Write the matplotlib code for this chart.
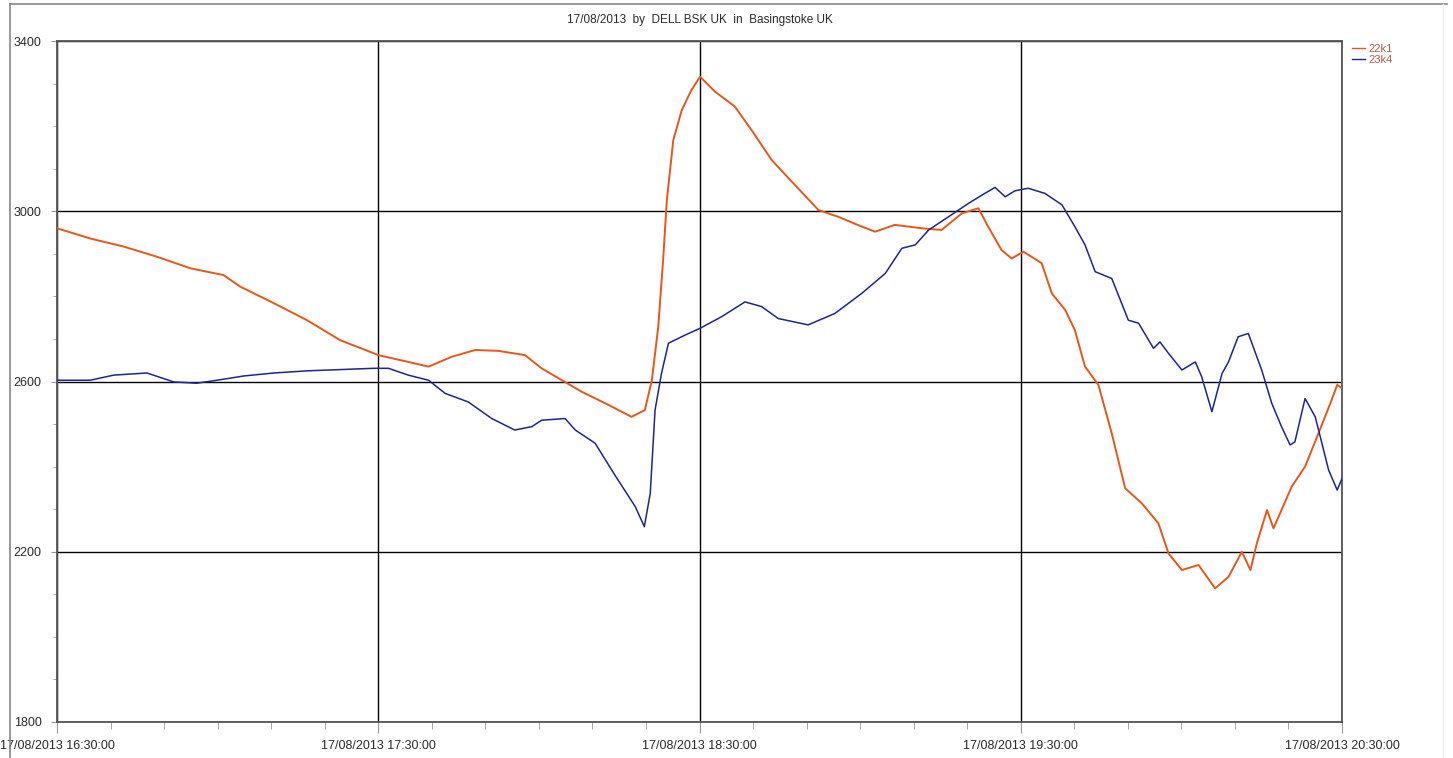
import datetime as dt
import matplotlib
matplotlib.use("Agg")
import matplotlib.pyplot as plt
import matplotlib.dates as mdates
from matplotlib.lines import Line2D

plt.rcParams['font.family'] = ['Liberation Sans', 'DejaVu Sans']

title = "17/08/2013  by  DELL BSK UK  in  Basingstoke UK"
series_names = ["22k1", "23k4"]

# minutes after 17/08/2013 16:30:00
red_minutes = [0, 6.2, 12.45, 18.7, 24.9, 31.1, 34.2, 40.5, 46.7, 52.9, 57.6, 60.0, 65.6, 69.4,
               73.7, 78.1, 82.4, 87.4, 90.5, 94.3, 98.0, 103.0, 107.3, 109.8, 111.1, 112.3, 113.2,
               113.9, 115.1, 116.7, 118.5, 120.1, 122.9, 126.6, 129.7, 133.5, 137.8, 142.2, 145.9,
               150.3, 152.8, 156.5, 161.5, 165.2, 169.0, 172.1, 173.9, 176.4, 178.3, 180.5, 183.9,
               185.8, 188.3, 190.1, 192.0, 194.5, 197.0, 199.5, 202.6, 205.7, 207.6, 210.1, 213.2,
               216.3, 218.8, 221.3, 222.9, 224.1, 226.0, 227.2, 228.7, 230.6, 233.1, 235.6, 237.8,
               239.1, 240]
red_values = [2960, 2936, 2917, 2893, 2866, 2850, 2823, 2784, 2744, 2697, 2674, 2662, 2646, 2635,
              2658, 2674, 2672, 2662, 2631, 2603, 2576, 2545, 2517, 2533, 2603, 2729, 2885,
              3026, 3167, 3238, 3285, 3316, 3281, 3246, 3191, 3120, 3062, 3003, 2987,
              2964, 2952, 2968, 2960, 2956, 2995, 3007, 2964, 2909, 2889, 2905, 2878,
              2807, 2768, 2721, 2635, 2592, 2478, 2349, 2314, 2267, 2196, 2157, 2169,
              2114, 2141, 2200, 2157, 2220, 2298, 2255, 2298, 2353, 2400, 2478, 2548,
              2592, 2584]

blue_minutes = [0, 6.2, 10.6, 16.8, 21.8, 26.1, 29.9, 34.9, 40.5, 46.7, 52.9, 59.1, 61.9, 65.6,
                69.4, 72.5, 76.8, 81.2, 85.5, 88.7, 90.5, 94.9, 96.8, 100.5, 104.2, 108.0, 109.7,
                110.8, 111.7, 112.9, 114.2, 117.3, 120.1, 124.1, 128.5, 131.6, 134.7, 140.3, 145.3,
                150.3, 154.7, 157.8, 160.3, 162.8, 166.5, 170.3, 173.3, 175.2, 177.1, 178.9, 181.4,
                184.5, 187.7, 190.1, 192.0, 193.9, 197.0, 200.1, 202.0, 204.8, 206.0, 207.6, 210.1,
                212.6, 213.8, 215.7, 217.6, 218.8, 220.6, 222.5, 225.0, 226.9, 228.7, 230.3, 231.2,
                233.1, 235.0, 237.5, 239.1, 240]
blue_values = [2603, 2603, 2615, 2620, 2599, 2596, 2603, 2613, 2620, 2625, 2628, 2631, 2631, 2615,
               2603, 2572, 2552, 2513, 2486, 2494, 2509, 2513, 2486, 2455, 2380, 2306, 2259,
               2337, 2533, 2619, 2690, 2709, 2725, 2752, 2787, 2776, 2748, 2733, 2760,
               2807, 2854, 2913, 2921, 2956, 2987, 3019, 3042, 3056, 3034, 3048, 3054,
               3042, 3015, 2964, 2921, 2858, 2842, 2744, 2737, 2678, 2693, 2666, 2627,
               2646, 2611, 2529, 2619, 2646, 2705, 2713, 2627, 2548, 2494, 2451, 2458,
               2560, 2517, 2392, 2345, 2372]

y_ticks = [1800, 2200, 2600, 3000, 3400]

start = dt.datetime(2013, 8, 17, 16, 30, 0)
end = dt.datetime(2013, 8, 17, 20, 30, 0)
red_t = [start + dt.timedelta(minutes=m) for m in red_minutes]
blue_t = [start + dt.timedelta(minutes=m) for m in blue_minutes]

W, H = 1453, 758
fig = plt.figure(figsize=(W / 100, H / 100), dpi=100)
fig.patch.set_facecolor('white')
ax = fig.add_axes([57 / W, 1 - 722 / H, (1342 - 57) / W, (722 - 41) / H])

ax.plot(red_t, red_values, color='#e8561c', lw=1.4, label=series_names[0], zorder=3)
ax.plot(blue_t, blue_values, color='#1c2690', lw=1.1, label=series_names[1], zorder=3)

ax.set_xlim(start, end)
ax.set_ylim(1800, 3400)
ax.set_yticks(y_ticks)
ax.yaxis.set_minor_locator(matplotlib.ticker.MultipleLocator(100))
ax.xaxis.set_major_locator(mdates.MinuteLocator(byminute=[30]))
ax.xaxis.set_minor_locator(mdates.MinuteLocator(byminute=list(range(0, 60, 10))))
ax.xaxis.set_major_formatter(mdates.DateFormatter('%d/%m/%Y %H:%M:%S'))

ax.grid(True, which='major', color='black', lw=1.0)
for s in ax.spines.values():
    s.set_color('#555555')
    s.set_linewidth(1.3)

ax.tick_params(axis='both', which='both', direction='out', color='#999999',
               labelsize=9, labelcolor='#2a2a2a')
ax.tick_params(axis='y', which='major', length=4, pad=7)
ax.tick_params(axis='y', which='minor', length=3)
ax.tick_params(axis='x', which='major', length=8, pad=5)
ax.tick_params(axis='x', which='minor', length=5)

fig.text(699.5 / W, 1 - 20 / H, title, ha='center', va='center', fontsize=8.5, color='#2a2a2a')

leg = fig.legend(loc='upper left', bbox_to_anchor=(1352 / W, 1 - 44 / H), frameon=False,
                 fontsize=8, handlelength=1.2, handletextpad=0.3, labelspacing=0.05,
                 borderpad=0, borderaxespad=0)
for t in leg.get_texts():
    t.set_color('#b05a4a')
for h in leg.get_lines():
    h.set_linewidth(1.0)

# figure frame
fig.add_artist(Line2D([10 / W, 10 / W], [0, 1 - 4 / H], color='#888888', lw=1.2))
fig.add_artist(Line2D([10 / W, 1447 / W], [1 - 4 / H, 1 - 4 / H], color='#888888', lw=1.2))
fig.add_artist(Line2D([1443 / W, 1443 / W], [0, 1 - 4 / H], color='#eeeeee', lw=1.0))

fig.savefig('out.png', dpi=100)
